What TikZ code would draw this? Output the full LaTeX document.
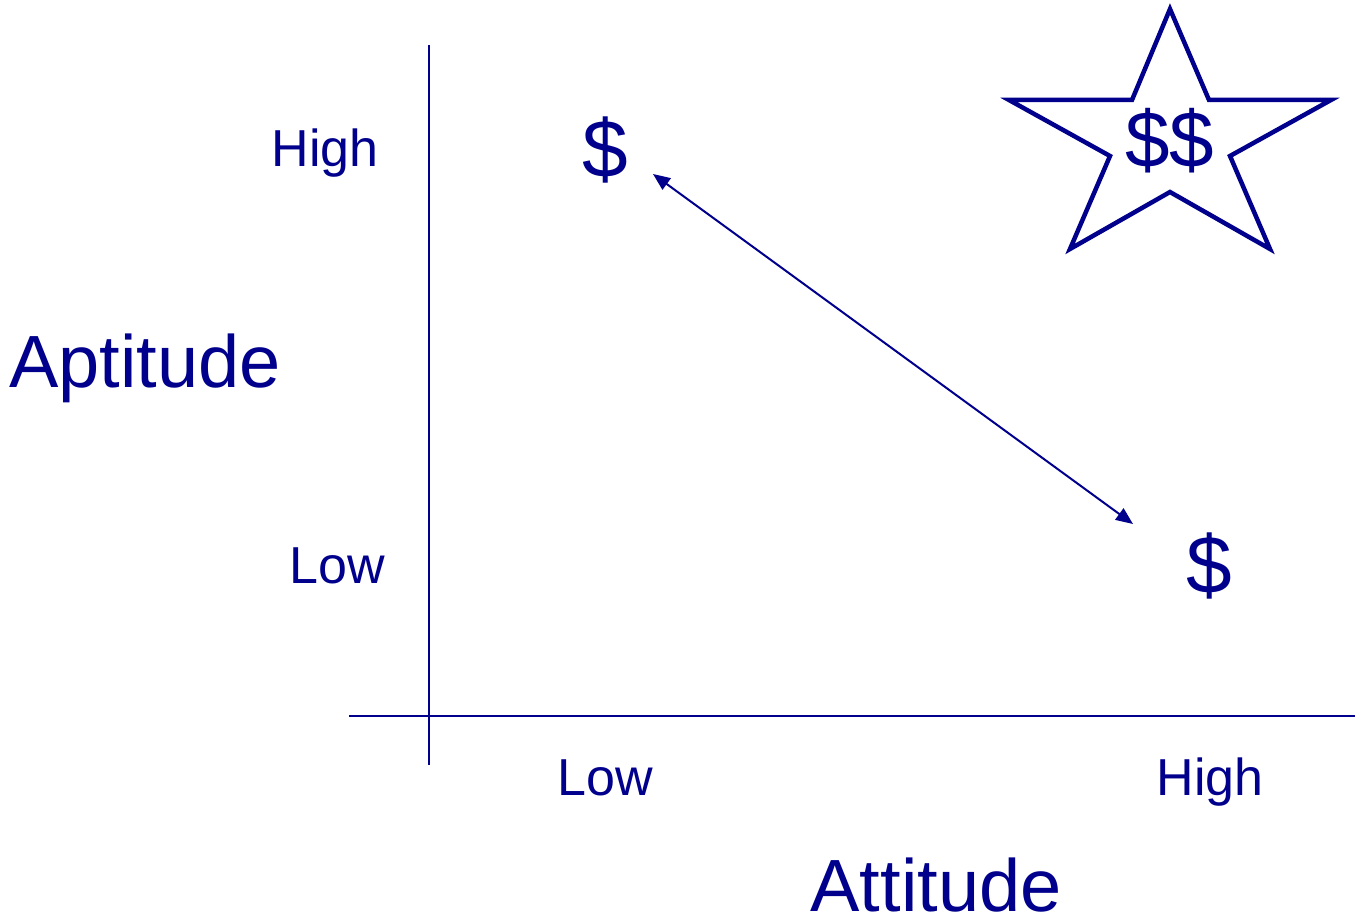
\documentclass[tikz,border=0pt]{standalone}
\usepackage{fontspec}
\setmainfont{Liberation Sans}
\usetikzlibrary{arrows.meta}
\definecolor{navy}{RGB}{0,0,140}
\begin{document}
\begin{tikzpicture}[x=1pt,y=-1pt,
  lbl/.style={text=navy,inner sep=0pt,anchor=base,font=\fontsize{52}{60}\selectfont},
  big/.style={text=navy,inner sep=0pt,anchor=base,font=\fontsize{74}{80}\selectfont},
  dol/.style={text=navy,inner sep=0pt,anchor=center,font=\fontsize{82}{90}\selectfont},
  axis/.style={draw=navy,line width=2pt}]
\useasboundingbox (0,0) rectangle (1355,923);
% axes
\coordinate (vt) at (429,45);
\coordinate (vb) at (429,765);
\coordinate (hl) at (349,716);
\coordinate (hr) at (1355,716);
\draw[axis] (vt) -- (vb);
\draw[axis] (hl) -- (hr);
% labels
\node[lbl,anchor=base east] (yhigh) at (379,167) {High};
\node[lbl,anchor=base east] (ylow) at (385,583) {Low};
\node[lbl] (xlow) at (605,795) {Low};
\node[lbl] (xhigh) at (1210,795) {High};
\node[big] (apt) at (145,387) {Aptitude};
\node[big] (att) at (936,911) {Attitude};
% dollars
\node[dol] (d1) at (605,150) {\$};
\node[dol] (d2) at (1209,566) {\$};
% star
\draw[navy,line width=4.5pt,line join=miter]
  (1170,9) -- (1209,100) -- (1331,100) -- (1230,156) -- (1270,249)
  -- (1170,192) -- (1070,249) -- (1110,156) -- (1009,100) -- (1132,100) -- cycle;
\node[dol,font=\fontsize{80}{88}\selectfont] (d3) at (1170,141) {\$\$};
% arrow
\coordinate (a1) at (653,174);
\coordinate (a2) at (1133,524);
\draw[navy,line width=2pt,{Triangle[length=17pt,width=14pt]}-{Triangle[length=17pt,width=14pt]}] (a1) -- (a2);
\end{tikzpicture}
\end{document}
